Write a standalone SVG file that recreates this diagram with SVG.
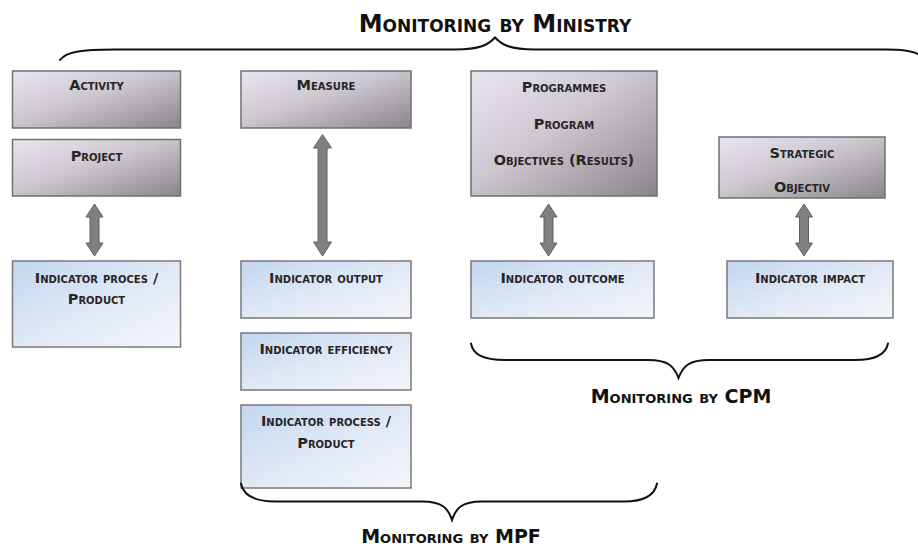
<svg xmlns="http://www.w3.org/2000/svg" width="918" height="546" viewBox="0 0 918 546">
  <defs>
    <linearGradient id="gTop" x1="0" y1="0" x2="1" y2="1">
      <stop offset="0" stop-color="#e9e5ef"/>
      <stop offset="0.45" stop-color="#cdc7d0"/>
      <stop offset="1" stop-color="#8a858d"/>
    </linearGradient>
    <linearGradient id="gInd" x1="0" y1="0" x2="1" y2="1">
      <stop offset="0" stop-color="#c2d6ef"/>
      <stop offset="0.55" stop-color="#e2eaf6"/>
      <stop offset="1" stop-color="#f4f6fa"/>
    </linearGradient>
    <style>
      .top { fill: url(#gTop); stroke: #6f6f6f; stroke-width: 1.5; }
      .ind { fill: url(#gInd); stroke: #7a7a7a; stroke-width: 1.5; }
      .lbl { font-family: "DejaVu Sans", "Liberation Sans", sans-serif; font-weight: bold; font-variant: small-caps; font-size: 14.5px; fill: #262626; text-anchor: middle; }
      .ttl { font-family: "DejaVu Sans", "Liberation Sans", sans-serif; font-weight: bold; font-variant: small-caps; fill: #111; text-anchor: middle; }
      .brace { fill: none; stroke: #111; stroke-width: 2; stroke-linecap: round; }
      .arr { fill: #808080; stroke: #606060; stroke-width: 1; stroke-linejoin: miter; }
    </style>
  </defs>

  <rect width="918" height="546" fill="#ffffff"/>

  <!-- titles -->
  <text class="ttl" x="495" y="32" font-size="24">Monitoring  by Ministry</text>
  <text class="ttl" x="681" y="403" font-size="19">Monitoring  by CPM</text>
  <text class="ttl" x="451" y="543" font-size="19">Monitoring  by MPF</text>

  <!-- nodes -->
  <g id="activity">
    <rect class="top" x="12.5" y="71" width="168" height="57"/>
    <text class="lbl" x="96.5" y="90">Activity</text>
  </g>
  <g id="project">
    <rect class="top" x="12.5" y="139.5" width="168" height="56.5"/>
    <text class="lbl" x="96.5" y="161">Project</text>
  </g>
  <g id="measure">
    <rect class="top" x="241" y="71" width="170" height="57"/>
    <text class="lbl" x="326" y="90">Measure</text>
  </g>
  <g id="programmes">
    <rect class="top" x="471" y="71" width="186" height="125"/>
    <text class="lbl" x="564" y="92">Programmes</text>
    <text class="lbl" x="564" y="128.5">Program</text>
    <text class="lbl" x="564" y="165">Objectives (Results)</text>
  </g>
  <g id="strategic">
    <rect class="top" x="719" y="137" width="166" height="61"/>
    <text class="lbl" x="802" y="158">Strategic</text>
    <text class="lbl" x="802" y="192">Objectiv</text>
  </g>
  <g id="ind-proces">
    <rect class="ind" x="12.5" y="261" width="168" height="86"/>
    <text class="lbl" x="96.5" y="283">Indicator proces /</text>
    <text class="lbl" x="96.5" y="303.5">Product</text>
  </g>
  <g id="ind-output">
    <rect class="ind" x="241" y="261" width="170" height="57"/>
    <text class="lbl" x="326" y="282.5">Indicator output</text>
  </g>
  <g id="ind-efficiency">
    <rect class="ind" x="241" y="333" width="170" height="57"/>
    <text class="lbl" x="326" y="353.5">Indicator efficiency</text>
  </g>
  <g id="ind-process">
    <rect class="ind" x="241" y="405" width="170" height="83"/>
    <text class="lbl" x="326" y="425.5">Indicator process /</text>
    <text class="lbl" x="326" y="448">Product</text>
  </g>
  <g id="ind-outcome">
    <rect class="ind" x="471" y="261" width="183" height="57"/>
    <text class="lbl" x="562.5" y="282.5">Indicator outcome</text>
  </g>
  <g id="ind-impact">
    <rect class="ind" x="727" y="261" width="166" height="57"/>
    <text class="lbl" x="810" y="282.5">Indicator impact</text>
  </g>

  <!-- connectors -->
  <g id="connectors">
    <path class="arr" d="M94.5,204 L103,217 L99,217 L99,243 L103,243 L94.5,256 L86,243 L90,243 L90,217 L86,217 Z"/>
    <path class="arr" d="M322.5,134.5 L331.5,148 L327,148 L327,242 L331.5,242 L322.5,256 L313.5,242 L318,242 L318,148 L313.5,148 Z"/>
    <path class="arr" d="M548.5,204 L557,217 L553,217 L553,243 L557,243 L548.5,256 L540,243 L544,243 L544,217 L540,217 Z"/>
    <path class="arr" d="M804,204 L812.5,217 L808.5,217 L808.5,243 L812.5,243 L804,256 L795.5,243 L799.5,243 L799.5,217 L795.5,217 Z"/>

    <!-- braces -->
    <path class="brace" d="M60,60 C66,52 80,49.5 115,49.5 L455,49.5 C480,49.5 488,45 495,37.5 C502,45 510,49.5 535,49.5 L885,49.5 C905,49.5 912,51 918,54"/>
    <path class="brace" d="M471,343.5 C473,354 482,360 505,360 L648,360 C668,360 674,366 678.5,378 C683,366 689,360 709,360 L855,360 C877,360 886,354 888,343.5"/>
    <path class="brace" d="M241,483.5 C243,494 252,501.5 275,501.5 L422,501.5 C442,501.5 448,508 452,520 C456,508 462,501.5 482,501.5 L624,501.5 C646,501.5 655,494 657,483.5"/>
  </g>
</svg>
